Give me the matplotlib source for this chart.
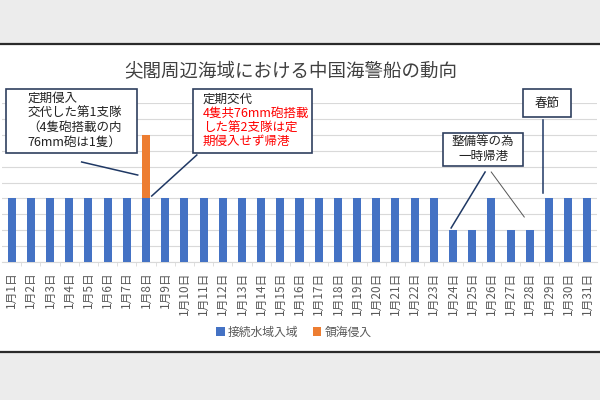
#This file draws the chart of China coast guard ships around the Senkaku islands (January)
import matplotlib
matplotlib.use("Agg")
import matplotlib.pyplot as plt
from matplotlib.patches import Rectangle
from matplotlib.lines import Line2D

plt.rcParams['font.family'] = ['Noto Sans CJK JP', 'DejaVu Sans']

# data
days = ["1月1日", "1月2日", "1月3日", "1月4日", "1月5日", "1月6日", "1月7日", "1月8日",
        "1月9日", "1月10日", "1月11日", "1月12日", "1月13日", "1月14日", "1月15日", "1月16日",
        "1月17日", "1月18日", "1月19日", "1月20日", "1月21日", "1月22日", "1月23日", "1月24日",
        "1月25日", "1月26日", "1月27日", "1月28日", "1月29日", "1月30日", "1月31日"]
contiguous = [4, 4, 4, 4, 4, 4, 4, 4, 4, 4, 4, 4, 4, 4, 4, 4,
              4, 4, 4, 4, 4, 4, 4, 2, 2, 4, 2, 2, 4, 4, 4]
territorial = [0, 0, 0, 0, 0, 0, 0, 4, 0, 0, 0, 0, 0, 0, 0, 0,
               0, 0, 0, 0, 0, 0, 0, 0, 0, 0, 0, 0, 0, 0, 0]
series_names = ["接続水域入域", "領海侵入"]

blue = "#4472C4"
orange = "#ED7D31"
navy = "#1F3864"

fig = plt.figure(figsize=(6, 4), dpi=100, facecolor="#ececec")

# white panel of the screenshot with its dark edges
fig.patches.append(Rectangle((0, 0.12), 1, 0.77, transform=fig.transFigure,
                             facecolor="white", edgecolor="none", zorder=-5))
for yy in (0.12, 0.89):
    fig.lines.append(Line2D([0, 1], [yy, yy], transform=fig.transFigure,
                            color="#2a2a2a", lw=1.6, zorder=-4))

ax = fig.add_axes([2 / 600, 1 - 262 / 400, 595 / 600, 159 / 400])
ax.set_facecolor("none")
x = list(range(len(days)))
ax.bar(x, contiguous, width=0.42, color=blue, zorder=3, label=series_names[0])
ax.bar(x, territorial, width=0.42, bottom=contiguous, color=orange, zorder=3,
       label=series_names[1])

ax.set_xlim(-0.5, len(days) - 0.5)
ax.set_ylim(0, 10)
ax.set_yticks(range(0, 11))
ax.yaxis.grid(True, color="#d9d9d9", lw=0.8, zorder=0)
ax.tick_params(axis="y", left=False, labelleft=False)
for s in ("left", "right", "top"):
    ax.spines[s].set_visible(False)
ax.spines["bottom"].set_color("#d9d9d9")
ax.set_xticks(x)
ax.set_xticklabels(days, rotation=90, fontsize=8.5, color="#595959")
ax.tick_params(axis="x", length=0, pad=7)
ax.set_xticks([i + 0.5 for i in x[:-1]], minor=True)
ax.tick_params(axis="x", which="minor", length=3, color="#d9d9d9")

fig.text(0.485, 0.82, "尖閣周辺海域における中国海警船の動向", ha="center", va="center",
         fontsize=13.3, color="#404040")

# annotation boxes
def box(x0, y0, x1, y1, lw=1.2):
    ax.add_patch(Rectangle((x0, y0), x1 - x0, y1 - y0, facecolor="white",
                           edgecolor="#2F3F5F", lw=lw, clip_on=False, zorder=5))

box(-0.31, 6.86, 6.52, 10.88)
ax.text(0.83, 10.7, "定期侵入\n交代した第1支隊\n（4隻砲搭載の内\n76mm砲は1隻）",
        ha="left", va="top", fontsize=9, color="#222222", linespacing=1.15, zorder=6)

box(9.44, 6.86, 15.65, 10.88)
line_y = [10.23, 9.35, 8.41, 7.57]
ax.text(9.96, line_y[0], "定期交代", ha="left", va="center", fontsize=9,
        color="#222222", zorder=6)
red_lines = ["4隻共76mm砲搭載", "した第2支隊は定", "期侵入せず帰港"]
for yy, t in zip(line_y[1:], red_lines):
    ax.text(9.96, yy, t, ha="left", va="center", fontsize=9, color="#FF0000", zorder=6)

box(22.48, 6.04, 26.66, 8.11)
ax.text(24.57, 7.1, "整備等の為\n一時帰港", ha="center", va="center", fontsize=9,
        color="#222222", linespacing=1.15, zorder=6)

box(26.66, 9.12, 29.16, 10.88)
ax.text(27.91, 10.0, "春節", ha="center", va="center", fontsize=9, color="#222222", zorder=6)

# leader lines
ax.plot([3.65, 6.57], [6.29, 5.47], color=navy, lw=1.1, clip_on=False, zorder=4)
ax.plot([9.65, 7.30], [6.73, 4.15], color=navy, lw=1.1, clip_on=False, zorder=4)
ax.plot([24.67, 22.9], [5.66, 2.14], color=navy, lw=1.1, clip_on=False, zorder=4)
ax.plot([24.99, 26.71], [5.66, 2.83], color="#555555", lw=0.7, clip_on=False, zorder=4)
ax.plot([27.7, 27.7], [8.93, 4.34], color=navy, lw=1.1, clip_on=False, zorder=4)

fig.legend(loc="center", bbox_to_anchor=(0.49, 0.17), ncol=2, frameon=False,
           fontsize=8.5, labelcolor="#595959", handlelength=0.7, handleheight=0.7,
           handletextpad=0.3, columnspacing=1.2)

fig.savefig("out.png", dpi=100, facecolor=fig.get_facecolor())
